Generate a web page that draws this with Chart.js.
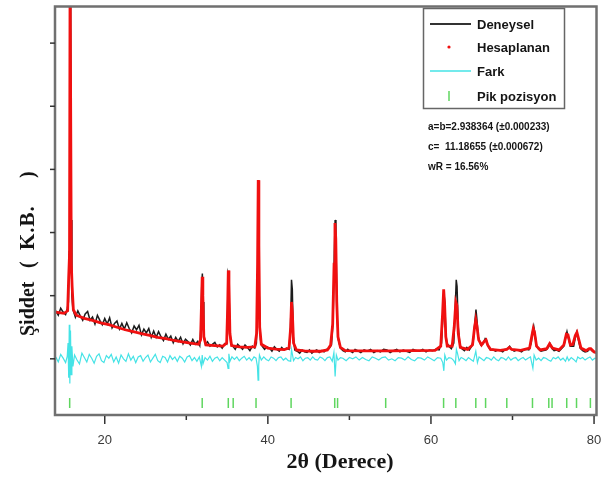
<!DOCTYPE html>
<html>
<head>
<meta charset="utf-8">
<script src="https://cdn.jsdelivr.net/npm/chart.js@4.4.0/dist/chart.umd.min.js"></script>
<style>
  html, body { margin: 0; padding: 0; background: #fff; }
</style>
</head>
<body>
<canvas id="xrd" width="603" height="484"></canvas>
<script>
// Deneysel (measured) pattern, 2theta and counts
const expTheta = [
  14.0, 14.3, 14.6, 14.9, 15.2, 15.4, 15.55, 15.65, 15.72, 15.80, 15.88, 15.97, 16.1,
  16.4, 16.7, 17.0, 17.3, 17.6, 17.9, 18.2, 18.5, 18.8, 19.1, 19.4, 19.7, 20.0, 20.3,
  20.6, 20.9, 21.2, 21.5, 21.8, 22.1, 22.4, 22.7, 23.0, 23.3, 23.6, 23.9, 24.2, 24.5,
  24.8, 25.1, 25.4, 25.7, 26.0, 26.3, 26.6, 26.9, 27.2, 27.5, 27.8, 28.1, 28.4, 28.7,
  29.0, 29.3, 29.6, 29.9, 30.2, 30.5, 30.8, 31.1, 31.4, 31.65, 31.8, 31.9, 31.97, 32.05,
  32.15, 32.35, 32.6, 32.9, 33.2, 33.5, 33.8, 34.1, 34.4, 34.7, 34.95, 35.05, 35.13, 35.22,
  35.32, 35.45, 35.7, 36.0, 36.3, 36.6, 36.9, 37.2, 37.5, 37.8, 38.1, 38.4, 38.6, 38.7,
  38.78, 38.86, 38.95, 39.1, 39.3, 39.6, 39.9, 40.2, 40.5, 40.8, 41.1, 41.4, 41.7, 42.0,
  42.3, 42.6, 42.78, 42.9, 43.0, 43.12, 43.3, 43.6, 43.9, 44.2, 44.5, 44.8, 45.1, 45.4,
  45.7, 46.0, 46.3, 46.6, 46.9, 47.2, 47.5, 47.8, 48.0, 48.15, 48.25, 48.35, 48.48, 48.65,
  48.9, 49.2, 49.5, 49.8, 50.1, 50.4, 50.7, 51.0, 51.4, 51.8, 52.2, 52.6, 53.0, 53.4,
  53.8, 54.2, 54.6, 55.0, 55.4, 55.8, 56.2, 56.6, 57.0, 57.4, 57.8, 58.2, 58.6, 59.0,
  59.4, 59.8, 60.2, 60.6, 61.0, 61.3, 61.45, 61.58, 61.7, 61.82, 61.95, 62.2, 62.5, 62.8,
  62.95, 63.1, 63.2, 63.35, 63.55, 63.8, 64.1, 64.4, 64.7, 65.0, 65.2, 65.4, 65.52, 65.62,
  65.8, 66.1, 66.4, 66.65, 66.8, 67.0, 67.3, 67.6, 67.9, 68.2, 68.5, 68.8, 69.1, 69.4,
  69.65, 69.9, 70.2, 70.5, 70.8, 71.1, 71.4, 71.7, 72.0, 72.3, 72.48, 72.6, 72.75, 72.95,
  73.2, 73.5, 73.8, 74.1, 74.4, 74.6, 74.8, 75.1, 75.4, 75.7, 76.0, 76.3, 76.5, 76.68,
  76.85, 77.1, 77.5, 77.7, 77.88, 78.05, 78.3, 78.6, 78.9, 79.2, 79.5, 79.8, 80.1, 80.3
];
const expCounts = [
  760, 690, 800, 740, 700, 790, 900, 1700, 6600, 6600, 2200, 1000, 780,
  660, 760, 680, 610, 710, 750, 610, 660, 550, 690, 610, 540, 640, 550,
  650, 490, 560, 600, 470, 560, 470, 570, 480, 410, 520, 460, 530, 380,
  470, 410, 480, 340, 440, 340, 430, 350, 290, 390, 310, 360, 255, 340,
  275, 340, 235, 310, 275, 220, 305, 230, 275, 210, 520, 1200, 1350, 900,
  380, 230, 270, 200, 230, 260, 190, 220, 170, 240, 230, 700, 1350, 1300,
  500, 250, 200, 150, 230, 190, 150, 220, 180, 130, 200, 170, 250, 900,
  2700, 2650, 1000, 300, 200, 150, 190, 170, 120, 190, 150, 120, 180, 140,
  170, 150, 500, 1250, 1100, 350, 140, 120, 90, 140, 110, 100, 140, 90,
  120, 140, 100, 130, 110, 150, 160, 220, 600, 1700, 2200, 1900, 700, 300,
  170, 130, 110, 150, 120, 100, 150, 130, 100, 140, 120, 150, 100, 130,
  110, 150, 140, 100, 130, 150, 110, 140, 120, 100, 150, 130, 120, 150,
  110, 140, 130, 150, 140, 250, 650, 1050, 900, 400, 250, 200, 160, 250,
  700, 1250, 1150, 500, 220, 160, 130, 180, 140, 200, 300, 600, 780, 650,
  350, 220, 240, 320, 300, 200, 140, 150, 120, 140, 130, 110, 150, 160,
  200, 150, 120, 140, 130, 110, 140, 150, 140, 250, 450, 520, 400, 200,
  150, 120, 130, 140, 180, 240, 170, 130, 140, 120, 160, 200, 330, 430,
  330, 200, 200, 330, 420, 320, 170, 130, 110, 120, 160, 120, 100, 90
];

// Hesaplanan (calculated) pattern
const calcTheta = [
  14.0, 15.0, 15.45, 15.58, 15.68, 15.75, 15.82, 15.9, 16.0, 16.15, 16.5, 17.5, 18.5,
  19.5, 20.5, 21.5, 22.5, 23.5, 24.5, 25.5, 26.5, 27.5, 28.5, 29.5, 30.5, 31.5, 31.75,
  31.87, 31.95, 32.03, 32.15, 32.4, 33.5, 34.5, 34.95, 35.07, 35.15, 35.23, 35.35, 35.55,
  36.5, 37.5, 38.4, 38.62, 38.74, 38.82, 38.9, 39.0, 39.2, 40.0, 41.0, 42.0, 42.6, 42.8,
  42.9, 43.0, 43.15, 43.5, 44.5, 45.5, 46.5, 47.3, 47.7, 47.95, 48.12, 48.23, 48.33, 48.45,
  48.6, 48.9, 49.5, 52.0, 55.0, 58.0, 60.5, 61.2, 61.42, 61.56, 61.68, 61.82, 62.0, 62.6,
  62.85, 63.05, 63.18, 63.35, 63.6, 64.5, 65.1, 65.35, 65.5, 65.63, 65.85, 66.2, 66.55,
  66.75, 66.95, 67.3, 68.5, 69.3, 69.6, 69.9, 71.0, 72.1, 72.35, 72.55, 72.7, 72.95, 73.4,
  74.2, 74.55, 74.9, 75.7, 76.3, 76.6, 76.8, 77.1, 77.4, 77.7, 77.9, 78.1, 78.4, 79.0,
  79.4, 79.6, 80.0, 80.3
];
const calcCounts = [
  740, 720, 760, 1300, 1650, 6300, 6300, 1500, 1150, 780, 690, 640, 610,
  570, 540, 500, 460, 430, 400, 370, 340, 320, 290, 270, 250, 230, 300,
  900, 1300, 1000, 350, 220, 210, 200, 250, 800, 1400, 1200, 400, 210,
  190, 180, 190, 400, 1500, 2830, 1800, 500, 230, 170, 155, 145, 170, 500,
  900, 750, 250, 140, 125, 120, 120, 140, 220, 550, 1500, 2150, 1900, 900,
  350, 180, 130, 125, 125, 130, 135, 200, 700, 1100, 850, 350, 200, 200,
  500, 900, 850, 400, 180, 150, 220, 500, 620, 530, 300, 220, 280,
  300, 220, 150, 135, 150, 180, 150, 135, 170, 350, 480, 420, 200, 140,
  160, 240, 170, 140, 220, 390, 380, 220, 230, 370, 420, 320, 170, 130,
  160, 160, 110, 100
];

// Fark (difference) curve
const diffTheta = [
  14.0, 14.3, 14.6, 14.9, 15.2, 15.4, 15.5, 15.58, 15.65, 15.72, 15.8, 15.88, 15.97, 16.1,
  16.3, 16.6, 16.9, 17.2, 17.5, 17.8, 18.1, 18.4, 18.7, 19.0, 19.3, 19.6, 19.9, 20.2,
  20.5, 20.8, 21.1, 21.4, 21.7, 22.0, 22.3, 22.6, 22.9, 23.2, 23.5, 23.8, 24.1, 24.4,
  24.7, 25.0, 25.3, 25.6, 25.9, 26.2, 26.5, 26.8, 27.1, 27.4, 27.7, 28.0, 28.3, 28.6,
  28.9, 29.2, 29.5, 29.8, 30.1, 30.4, 30.7, 31.0, 31.3, 31.6, 31.85, 31.95, 32.05, 32.3,
  32.6, 32.9, 33.2, 33.5, 33.8, 34.1, 34.4, 34.7, 35.0, 35.12, 35.22, 35.35, 35.6, 35.9,
  36.2, 36.5, 36.8, 37.1, 37.4, 37.7, 38.0, 38.3, 38.55, 38.72, 38.8, 38.88, 38.97, 39.2,
  39.5, 39.8, 40.1, 40.4, 40.7, 41.0, 41.3, 41.6, 41.9, 42.2, 42.5, 42.8, 42.9, 43.0,
  43.15, 43.4, 43.7, 44.0, 44.3, 44.6, 44.9, 45.2, 45.5, 45.8, 46.1, 46.4, 46.7, 47.0,
  47.3, 47.6, 47.9, 48.1, 48.25, 48.4, 48.6, 48.9, 49.2, 49.6, 50.0, 50.4, 50.8, 51.2,
  51.6, 52.0, 52.4, 52.8, 53.2, 53.6, 54.0, 54.4, 54.8, 55.2, 55.6, 56.0, 56.4, 56.8,
  57.2, 57.6, 58.0, 58.4, 58.8, 59.2, 59.6, 60.0, 60.4, 60.8, 61.2, 61.45, 61.58, 61.7,
  61.9, 62.2, 62.5, 62.8, 63.0, 63.12, 63.25, 63.45, 63.7, 64.0, 64.3, 64.6, 64.9, 65.2,
  65.5, 65.7, 65.9, 66.2, 66.5, 66.8, 67.1, 67.4, 67.7, 68.0, 68.3, 68.6, 68.9, 69.2,
  69.5, 69.8, 70.1, 70.4, 70.7, 71.0, 71.3, 71.6, 71.9, 72.2, 72.5, 72.65, 72.9, 73.2,
  73.5, 73.8, 74.1, 74.4, 74.7, 75.0, 75.3, 75.6, 75.9, 76.2, 76.5, 76.7, 76.9, 77.2,
  77.5, 77.8, 78.0, 78.3, 78.6, 78.9, 79.2, 79.5, 79.8, 80.1, 80.3
];
const diffCounts = [
  30, -50, 70, 10, -60, 40, 250, -300, 540, -390, 450, -250, 200, -120,
  60, -20, -80, 90, 20, -50, 70, 10, -70, 40, 80, -30, -60, 50,
  10, 70, -50, 30, -70, 60, 0, -40, 80, -20, 40, -60, 30, 50,
  -40, 20, 60, -50, 10, 70, -30, -60, 40, 20, -50, 50, -10, 30,
  -40, 40, 10, -50, 30, 50, -30, 20, -40, 30, -120, 60, -80, 20,
  -20, 40, -40, 10, 30, -30, 20, -20, -60, -150, 80, -40, 30, -10,
  30, -30, 10, 40, -20, 20, -30, 30, 10, -120, -340, -100, 60, -20,
  30, -10, -30, 30, 10, -30, 20, 30, -20, 10, -30, -40, 150, 80,
  -30, 20, 0, 30, -30, 10, 20, -20, 30, -10, -20, 30, 10, -30,
  20, 30, -40, 100, -280, 60, -20, 20, 10, -30, 20, 0, 30, -20,
  20, -10, -30, 30, 10, -20, 20, 30, -20, 0, -30, 20, 10, -20,
  30, -10, -30, 20, 10, -20, 30, 0, -30, 20, 10, -60, -190, 60,
  -20, 20, 10, -30, -80, 150, 90, -30, 20, 0, -30, 20, -10, -40,
  120, -60, 30, 0, -30, 20, 10, -20, 30, -10, -30, 20, 10, -20,
  30, -20, 10, 20, -30, 0, 20, -20, 10, 30, -150, 60, -20, 10,
  -30, 20, 10, -20, -40, 20, 0, 30, -20, 10, -40, 30, -30, 20,
  -10, -50, 30, 0, 20, -20, 10, 30, -20, 10, 0
];

// Pik pozisyon (Bragg reflection positions)
const peakPositions = [
  15.7, 31.95, 35.15, 35.75, 38.55, 42.85, 48.2, 48.55, 54.45, 61.55, 63.05,
  65.5, 66.7, 69.3, 72.45, 74.45, 74.85, 76.65, 77.85, 79.55
];
const peakRowLevel = -700;

const xTickValues = [20, 30, 40, 50, 60, 70, 80];
const yTickValues = [0, 1000, 2000, 3000, 4000, 5000];

const legendLabels = ['Deneysel', 'Hesaplanan', 'Fark', 'Pik pozisyon'];
const cellNotes = [
  'a=b=2.938364 (\u00b10.000233)',
  'c=  11.18655 (\u00b10.000672)',
  'wR = 16.56%'
];
const xTitle = '2\u03b8 (Derece)';
const yTitleWord = '\u015eiddet';
const yTitleUnit = ['(', 'K.B.', ')'];

const toXY = (xs, ys) => xs.map((x, i) => ({ x: x, y: ys[i] }));

const COL_EXP = '#1c1c1c';
const COL_CALC = '#f01010';
const COL_DIFF = '#45e3e6';
const COL_PEAK = '#5fd65f';

const decorations = {
  id: 'decorations',
  afterDraw(chart) {
    const { ctx, chartArea: a, scales } = chart;
    const x = scales.x, y = scales.y;
    ctx.save();

    // frame
    ctx.strokeStyle = '#707070';
    ctx.lineWidth = 2.5;
    ctx.strokeRect(a.left, a.top, a.right - a.left, a.bottom - a.top);

    // tick marks and x labels
    ctx.strokeStyle = '#333';
    ctx.lineWidth = 1.5;
    ctx.fillStyle = '#3a3a3a';
    ctx.font = '13px "Liberation Sans", Arial, sans-serif';
    ctx.textAlign = 'center';
    ctx.textBaseline = 'middle';
    x.ticks.forEach(t => {
      const px = x.getPixelForValue(t.value);
      const major = t.value % 20 === 0;
      ctx.beginPath();
      ctx.moveTo(px, a.bottom + 1);
      ctx.lineTo(px, a.bottom + 1 + (major ? 8 : 4));
      ctx.stroke();
      if (major) ctx.fillText(String(t.value), px, 440);
    });
    y.ticks.forEach(t => {
      const py = y.getPixelForValue(t.value);
      ctx.beginPath();
      ctx.moveTo(a.left - 5, py);
      ctx.lineTo(a.left, py);
      ctx.stroke();
    });

    // axis titles
    ctx.fillStyle = '#151515';
    ctx.font = 'bold 22px "Liberation Serif", "Times New Roman", serif';
    ctx.textAlign = 'center';
    ctx.textBaseline = 'alphabetic';
    ctx.fillText(xTitle, 340, 468);

    ctx.save();
    ctx.translate(34, 0);
    ctx.rotate(-Math.PI / 2);
    ctx.textAlign = 'left';
    ctx.font = 'bold 20px "Liberation Serif", "Times New Roman", serif';
    ctx.fillText(yTitleWord, -336, 0);
    ctx.fillText(yTitleUnit[0], -268, 0);
    ctx.font = 'bold 21px "Liberation Serif", "Times New Roman", serif';
    ctx.letterSpacing = '1px';
    ctx.fillText(yTitleUnit[1], -250, 0);
    ctx.letterSpacing = '0px';
    ctx.font = 'bold 20px "Liberation Serif", "Times New Roman", serif';
    ctx.fillText(yTitleUnit[2], -178, 0);
    ctx.restore();

    // legend box
    ctx.strokeStyle = '#666';
    ctx.lineWidth = 1.5;
    ctx.strokeRect(423.5, 8.5, 141, 100);
    const rowY = [24, 47, 71, 96];
    ctx.lineWidth = 2;
    ctx.strokeStyle = '#333';
    ctx.beginPath(); ctx.moveTo(430, rowY[0]); ctx.lineTo(471, rowY[0]); ctx.stroke();
    ctx.fillStyle = COL_CALC;
    ctx.beginPath(); ctx.arc(449, rowY[1], 1.6, 0, Math.PI * 2); ctx.fill();
    ctx.strokeStyle = COL_DIFF;
    ctx.lineWidth = 1.5;
    ctx.beginPath(); ctx.moveTo(430, rowY[2]); ctx.lineTo(471, rowY[2]); ctx.stroke();
    ctx.strokeStyle = COL_PEAK;
    ctx.beginPath(); ctx.moveTo(449, rowY[3] - 5); ctx.lineTo(449, rowY[3] + 5); ctx.stroke();

    ctx.fillStyle = '#151515';
    ctx.textAlign = 'left';
    ctx.textBaseline = 'middle';
    ctx.font = 'bold 13px "Liberation Sans", Arial, sans-serif';
    legendLabels.forEach((s, i) => ctx.fillText(s, 477, rowY[i] + 1));

    ctx.font = 'bold 10px "Liberation Sans", Arial, sans-serif';
    cellNotes.forEach((s, i) => ctx.fillText(s, 428, 127 + i * 20));

    ctx.restore();
  }
};

new Chart(document.getElementById('xrd').getContext('2d'), {
  type: 'scatter',
  data: {
    datasets: [
      {
        label: legendLabels[1],
        data: toXY(calcTheta, calcCounts),
        showLine: true,
        borderColor: COL_CALC,
        borderWidth: 2.8,
        pointRadius: 0,
        tension: 0,
        order: 1
      },
      {
        label: legendLabels[0],
        data: toXY(expTheta, expCounts),
        showLine: true,
        borderColor: COL_EXP,
        borderWidth: 1.5,
        pointRadius: 0,
        tension: 0,
        order: 2
      },
      {
        label: legendLabels[2],
        data: toXY(diffTheta, diffCounts),
        showLine: true,
        borderColor: COL_DIFF,
        borderWidth: 1.2,
        pointRadius: 0,
        tension: 0,
        order: 3
      },
      {
        label: legendLabels[3],
        data: peakPositions.map(p => ({ x: p, y: peakRowLevel })),
        showLine: false,
        pointStyle: 'line',
        rotation: 90,
        pointRadius: 5,
        borderColor: COL_PEAK,
        borderWidth: 1.5,
        order: 4
      }
    ]
  },
  options: {
    responsive: false,
    animation: false,
    devicePixelRatio: 1,
    layout: { padding: { top: 1, right: 3, left: 0, bottom: 0 } },
    plugins: { legend: { display: false }, tooltip: { enabled: false } },
    scales: {
      x: {
        type: 'linear',
        min: 13.9,
        max: 80.3,
        grid: { display: false, drawTicks: false },
        border: { display: false },
        ticks: { display: false },
        afterBuildTicks: s => { s.ticks = xTickValues.map(v => ({ value: v })); },
        afterFit: s => { s.height = 69; }
      },
      y: {
        type: 'linear',
        min: -890,
        max: 5580,
        grid: { display: false, drawTicks: false },
        border: { display: false },
        ticks: { display: false },
        afterBuildTicks: s => { s.ticks = yTickValues.map(v => ({ value: v })); },
        afterFit: s => { s.width = 55; }
      }
    }
  },
  plugins: [decorations]
});
</script>
</body>
</html>
